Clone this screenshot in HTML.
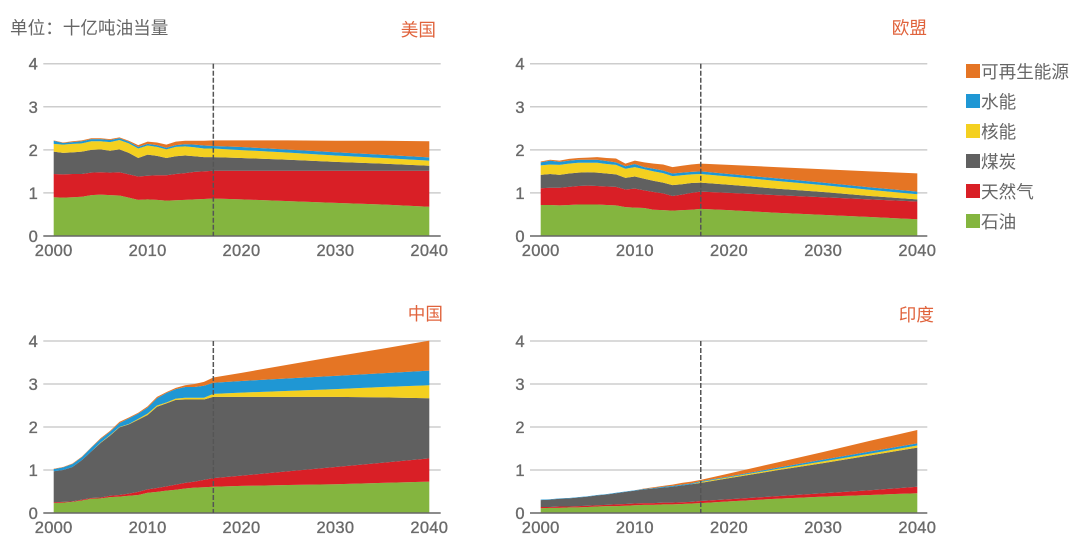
<!DOCTYPE html>
<html lang="zh">
<head>
<meta charset="utf-8">
<title>能源消费堆积面积图</title>
<style>
html,body{margin:0;padding:0;background:#fff;width:1080px;height:549px;overflow:hidden}
svg{display:block;filter:blur(0.35px)}
text{font-family:"Liberation Sans","Noto Sans CJK SC",sans-serif}
.cjk{font-size:17.6px;fill:#666}
.ttl{font-size:17.6px;fill:#e0633c;text-anchor:end}
.tick{font-size:16.5px;fill:#6a6a6a;stroke:#6a6a6a;stroke-width:0.35px}
</style>
</head>
<body>
<svg id="chart" width="1080" height="549" viewBox="0 0 1080 549" xmlns="http://www.w3.org/2000/svg">
  <text class="cjk" x="10" y="34">单位：十亿吨油当量</text>
  <g>
    <g><rect x="966" y="64" width="14" height="14" fill="#e57524"/><text class="cjk" x="981" y="78">可再生能源</text></g>
    <g><rect x="966" y="94" width="14" height="14" fill="#1f97d4"/><text class="cjk" x="981" y="108">水能</text></g>
    <g><rect x="966" y="124" width="14" height="14" fill="#f4d020"/><text class="cjk" x="981" y="138">核能</text></g>
    <g><rect x="966" y="154" width="14" height="14" fill="#606060"/><text class="cjk" x="981" y="168">煤炭</text></g>
    <g><rect x="966" y="184" width="14" height="14" fill="#d91f26"/><text class="cjk" x="981" y="198">天然气</text></g>
    <g><rect x="966" y="214" width="14" height="14" fill="#84b53f"/><text class="cjk" x="981" y="228">石油</text></g>
  </g>
</svg>
<script>
// Shared categories and tick labels
const years = [2000,2001,2002,2003,2004,2005,2006,2007,2008,2009,2010,2011,2012,2013,2014,2015,2016,2017,2020,2025,2030,2035,2040];
const xTickLabels = [2000,2010,2020,2030,2040];
const yTickLabels = [0,1,2,3,4];
const historyEndYear = 2017;
const fuels = ['oil','gas','coal','nuclear','hydro','renewables'];

// Upper edge of each stacked band (billion toe)
const usOil = [.90,.89,.90,.91,.95,.96,.95,.94,.89,.84,.85,.84,.82,.83,.84,.85,.86,.87,.85,.81,.77,.73,.68];
const usGas = [1.44,1.43,1.44,1.44,1.47,1.48,1.47,1.48,1.43,1.38,1.40,1.41,1.41,1.44,1.46,1.49,1.50,1.515,1.515,1.515,1.515,1.515,1.515];
const usCoal = [1.96,1.93,1.94,1.96,2.00,2.01,1.98,2.01,1.93,1.81,1.89,1.86,1.81,1.85,1.87,1.85,1.83,1.83,1.81,1.77,1.72,1.68,1.63];
const usNuclear = [2.14,2.12,2.14,2.15,2.20,2.20,2.18,2.23,2.15,2.03,2.10,2.07,2.01,2.07,2.08,2.06,2.03,2.03,1.995,1.935,1.87,1.81,1.75];
const usHydro = [2.21,2.16,2.18,2.20,2.25,2.25,2.23,2.27,2.19,2.07,2.14,2.11,2.05,2.11,2.13,2.12,2.10,2.09,2.065,2.005,1.945,1.885,1.825];
const usRenewables = [2.22,2.17,2.20,2.22,2.27,2.27,2.25,2.29,2.21,2.11,2.19,2.17,2.12,2.19,2.21,2.21,2.21,2.22,2.22,2.22,2.21,2.21,2.20];

const euOil = [.72,.72,.71,.72,.73,.73,.73,.72,.71,.67,.66,.65,.61,.60,.59,.60,.61,.63,.60,.54,.49,.44,.39];
const euGas = [1.11,1.12,1.12,1.14,1.16,1.17,1.16,1.15,1.14,1.08,1.10,1.06,1.02,.99,.93,.96,1.00,1.03,1.00,.95,.90,.85,.80];
const euCoal = [1.42,1.44,1.42,1.45,1.47,1.48,1.47,1.45,1.43,1.35,1.38,1.33,1.28,1.24,1.18,1.20,1.23,1.24,1.19,1.10,1.02,.93,.85];
const euNuclear = [1.64,1.66,1.65,1.68,1.70,1.70,1.70,1.67,1.65,1.56,1.60,1.55,1.50,1.46,1.39,1.41,1.43,1.44,1.38,1.28,1.18,1.07,.97];
const euHydro = [1.71,1.75,1.72,1.75,1.77,1.77,1.77,1.74,1.71,1.62,1.67,1.60,1.56,1.52,1.45,1.47,1.49,1.50,1.44,1.34,1.24,1.13,1.03];
const euRenewables = [1.73,1.77,1.75,1.79,1.81,1.82,1.83,1.81,1.80,1.68,1.75,1.71,1.68,1.66,1.60,1.63,1.66,1.68,1.65,1.60,1.55,1.50,1.455];

const cnOil = [.23,.24,.26,.29,.33,.34,.37,.38,.40,.42,.47,.49,.52,.54,.57,.59,.60,.61,.63,.65,.67,.70,.73];
const cnGas = [.25,.26,.27,.31,.35,.36,.40,.42,.45,.49,.55,.58,.62,.66,.70,.73,.77,.81,.87,.97,1.07,1.17,1.27];
const cnCoal = [.97,1.00,1.07,1.23,1.43,1.63,1.80,1.99,2.06,2.17,2.28,2.47,2.55,2.63,2.64,2.64,2.64,2.70,2.70,2.70,2.70,2.69,2.67];
const cnNuclear = [.97,1.00,1.07,1.23,1.43,1.64,1.81,2.00,2.07,2.19,2.31,2.50,2.57,2.66,2.68,2.68,2.68,2.77,2.80,2.84,2.88,2.93,2.97];
const cnHydro = [1.02,1.06,1.14,1.30,1.52,1.72,1.89,2.09,2.20,2.31,2.45,2.67,2.79,2.88,2.93,2.93,2.96,3.03,3.07,3.13,3.19,3.25,3.31];
const cnRenewables = [1.03,1.07,1.15,1.31,1.53,1.74,1.91,2.12,2.22,2.33,2.48,2.70,2.81,2.91,2.97,3.00,3.05,3.15,3.26,3.45,3.64,3.82,4.01];

const inOil = [.11,.12,.12,.13,.13,.14,.15,.16,.16,.17,.18,.19,.19,.20,.20,.21,.22,.23,.27,.33,.38,.42,.46];
const inGas = [.14,.14,.15,.15,.16,.17,.18,.19,.20,.21,.22,.23,.23,.24,.24,.25,.26,.28,.32,.39,.46,.53,.61];
const inCoal = [.30,.31,.33,.34,.36,.38,.41,.43,.46,.49,.52,.55,.57,.59,.61,.64,.67,.70,.81,.99,1.16,1.34,1.52];
const inNuclear = [.30,.31,.33,.34,.36,.38,.41,.43,.46,.49,.52,.55,.57,.59,.61,.64,.67,.72,.83,1.02,1.20,1.38,1.57];
const inHydro = [.31,.32,.34,.35,.37,.39,.42,.44,.47,.50,.53,.56,.58,.61,.63,.66,.69,.74,.85,1.05,1.24,1.43,1.62];
const inRenewables = [.31,.32,.34,.35,.37,.39,.42,.44,.47,.50,.53,.57,.60,.63,.66,.70,.73,.77,.92,1.17,1.42,1.68,1.93];

const NS = 'http://www.w3.org/2000/svg';
const svg = document.getElementById('chart');
const fuelColors = {oil:'#84b53f',gas:'#d91f26',coal:'#606060',nuclear:'#f4d020',hydro:'#1f97d4',renewables:'#e57524'};

function make(parent, tag, attrs, txt){
  const el = document.createElementNS(NS, tag);
  for (const k in attrs) el.setAttribute(k, attrs[k]);
  if (txt !== undefined) el.textContent = txt;
  parent.appendChild(el);
  return el;
}

function drawPanel(p){
  const xScale = v => p.x2000 + (v - 2000) * (p.x2040 - p.x2000) / 40;
  const yScale = v => p.y0 - v * (p.y0 - p.y4) / 4;

  const g = make(svg, 'g', {});
  
  

  const title = make(g, 'text', {class:'ttl', x:p.titleX, y:p.titleY}, p.title);
  
  

  yTickLabels.forEach(t => {
    if (t !== 0) {
      const line = make(g, 'line', {x1:p.axisL, x2:p.axisR, y1:yScale(t), y2:yScale(t), stroke:'#cdcdcd', 'stroke-width':1.5});
      
      
    }
    const label = make(g, 'text', {class:'tick', x:p.axisL - 5.5, y:yScale(t) + 6, 'text-anchor':'end'}, t);
    
    
  });

  let lower = years.map(() => 0);
  fuels.forEach(f => {
    const upper = p.series[f];
    const top = years.map((yr, i) => xScale(yr).toFixed(2) + ',' + yScale(upper[i]).toFixed(2));
    const bottom = years.map((yr, i) => xScale(yr).toFixed(2) + ',' + yScale(lower[i]).toFixed(2)).reverse();
    const area = make(g, 'polygon', {points: top.concat(bottom).join(' '), fill: fuelColors[f]});
    
    
    lower = upper;
  });

  const axis = make(g, 'line', {x1:p.axisL, x2:p.axisR, y1:p.y0, y2:p.y0, stroke:'#666', 'stroke-width':1.5});
  
  

  const marker = make(g, 'line', {x1:xScale(historyEndYear), x2:xScale(historyEndYear), y1:p.y4, y2:p.y0, stroke:'#555', 'stroke-width':1.5, 'stroke-dasharray':'5 2'});
  
  

  xTickLabels.forEach(t => {
    const label = make(g, 'text', {class:'tick', x:xScale(t), y:p.y0 + 20, 'text-anchor':'middle', 'letter-spacing':'0.3'}, t);
    
    
  });
}

drawPanel({key:'usa', title:'美国', titleX:436, titleY:36, x2000:53.7, x2040:429.3, axisL:43.3, axisR:440.7, y0:236, y4:63.7,
  series:{oil:usOil,gas:usGas,coal:usCoal,nuclear:usNuclear,hydro:usHydro,renewables:usRenewables}});
drawPanel({key:'eu', title:'欧盟', titleX:927, titleY:34, x2000:540.7, x2040:917.3, axisL:530, axisR:927.3, y0:236, y4:63.7,
  series:{oil:euOil,gas:euGas,coal:euCoal,nuclear:euNuclear,hydro:euHydro,renewables:euRenewables}});
drawPanel({key:'china', title:'中国', titleX:443, titleY:320, x2000:53.7, x2040:429.3, axisL:43.3, axisR:440.7, y0:513, y4:341,
  series:{oil:cnOil,gas:cnGas,coal:cnCoal,nuclear:cnNuclear,hydro:cnHydro,renewables:cnRenewables}});
drawPanel({key:'india', title:'印度', titleX:934, titleY:321, x2000:540.7, x2040:917.3, axisL:530, axisR:927.3, y0:513, y4:341,
  series:{oil:inOil,gas:inGas,coal:inCoal,nuclear:inNuclear,hydro:inHydro,renewables:inRenewables}});
</script>
</body>
</html>
